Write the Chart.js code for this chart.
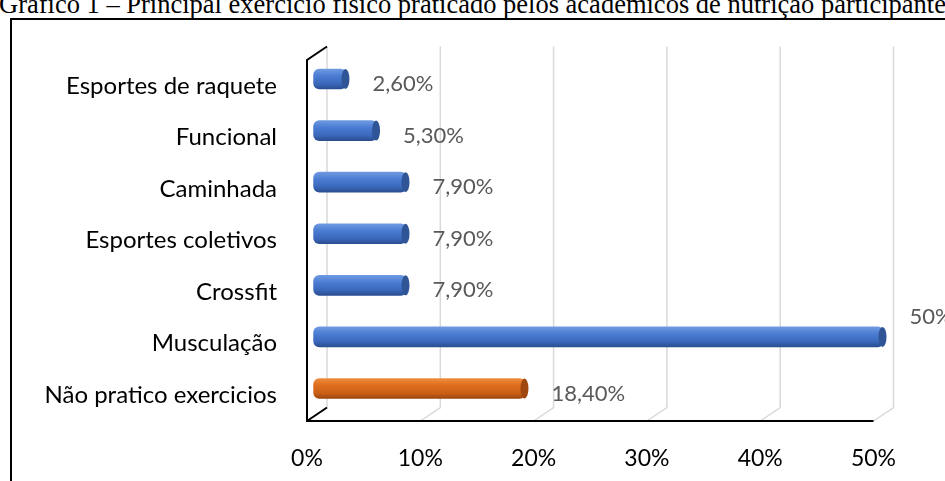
<!DOCTYPE html>
<html>
<head>
<meta charset="utf-8">
<script src="https://cdn.jsdelivr.net/npm/chart.js@4.4.1/dist/chart.umd.min.js"></script>
<style>
  html, body { margin: 0; padding: 0; background: #fff; overflow: hidden; }
  #wrap { position: relative; width: 945px; height: 481px; overflow: hidden; }
  #title { position: absolute; left: -1px; top: -9px; font-family: "Liberation Serif", "Times New Roman", serif; font-size: 26.5px; line-height: 27px; white-space: nowrap; color: #000; }
  #frame { position: absolute; left: 10px; top: 18px; width: 960px; height: 480px; border-left: 2px solid #000; border-top: 2px solid #000; }
  #c { position: absolute; left: 0; top: 0; }
</style>
</head>
<body>
<div id="wrap">
  <div id="title">Gráfico 1 – Principal exercício físico praticado pelos acadêmicos de nutrição participantes</div>
  <div id="frame"></div>
  <canvas id="c" width="945" height="481"></canvas>
</div>
<script>
// data, top to bottom
const categories = ['Esportes de raquete', 'Funcional', 'Caminhada', 'Esportes coletivos', 'Crossfit', 'Musculação', 'Não pratico exercicios'];
const values = [2.6, 5.3, 7.9, 7.9, 7.9, 50, 18.4];
const barKinds = ['blue', 'blue', 'blue', 'blue', 'blue', 'blue', 'orange'];
const xTicks = [0, 10, 20, 30, 40, 50];

// fake 3D depth: half offset between front and back wall
const DX = 10, DY = 6.75;

const palette = {
    blue: { stops: ['#6f9ae2', '#4a7cd2', '#3a67ba', '#2a4e90'], cap: '#2f5597' },
    orange: { stops: ['#f08d3e', '#dd6d1d', '#c95f15', '#9a4610'], cap: '#9f4910' }
};

function fmt(v) {
    return Number.isInteger(v) ? v + '%' : v.toFixed(2).replace('.', ',') + '%';
}

function barFill(context) {
    const chart = context.chart;
    const kind = palette[barKinds[context.dataIndex]];
    if (!chart.chartArea) return kind.stops[1];
    const y = chart.scales.y.getPixelForValue(context.dataIndex);
    const g = chart.ctx.createLinearGradient(0, y - 10, 0, y + 10);
    g.addColorStop(0, kind.stops[0]);
    g.addColorStop(0.35, kind.stops[1]);
    g.addColorStop(0.75, kind.stops[2]);
    g.addColorStop(1, kind.stops[3]);
    return g;
}

const walls = {
    id: 'walls',
    beforeDatasetsDraw(chart) {
        const { ctx, chartArea: a, scales: { x } } = chart;
        ctx.save();
        ctx.lineWidth = 1.5;
        ctx.strokeStyle = '#d9d9d9';
        xTicks.forEach(t => {
            const px = x.getPixelForValue(t);
            ctx.beginPath();
            ctx.moveTo(px + DX, a.top - DY);
            ctx.lineTo(px + DX, a.bottom - DY);
            ctx.lineTo(px - DX, a.bottom + DY);
            ctx.stroke();
        });
        const x0 = x.getPixelForValue(0);
        const x1 = x.getPixelForValue(xTicks[xTicks.length - 1]);
        ctx.strokeStyle = '#000';
        ctx.lineWidth = 2;
        ctx.beginPath();
        ctx.moveTo(x0 + DX, a.top - DY);
        ctx.lineTo(x0 - DX, a.top + DY);
        ctx.lineTo(x0 - DX, a.bottom + DY);
        ctx.lineTo(x1 - DX, a.bottom + DY);
        ctx.moveTo(x0 - DX, a.bottom + DY);
        ctx.lineTo(x0 + DX, a.bottom - DY);
        ctx.stroke();
        ctx.restore();
    },
    afterDatasetsDraw(chart) {
        const ctx = chart.ctx;
        const meta = chart.getDatasetMeta(0);
        ctx.save();
        meta.data.forEach((el, i) => {
            const h = el.height;
            // end face of the cylinder
            ctx.fillStyle = palette[barKinds[i]].cap;
            ctx.beginPath();
            ctx.ellipse(el.x - 1, el.y, 4, h / 2, 0, 0, Math.PI * 2);
            ctx.fill();
        });
        // value labels
        ctx.font = '22px Lato';
        ctx.fillStyle = '#595959';
        ctx.textAlign = 'left';
        ctx.textBaseline = 'middle';
        meta.data.forEach((el, i) => {
            const txt = fmt(values[i]);
            const w = ctx.measureText(txt).width;
            if (el.x + 26 + w > chart.width) {
                ctx.fillText(txt, el.x + 26, el.y - 20);
            } else {
                ctx.fillText(txt, el.x + 26, el.y + 5);
            }
        });
        ctx.restore();
    }
};

new Chart(document.getElementById('c'), {
    type: 'bar',
    data: {
        labels: categories,
        datasets: [{
            data: values,
            base: -0.3,
            clip: false,
            backgroundColor: barFill,
            borderWidth: 0,
            borderRadius: 6,
            borderSkipped: false,
            barThickness: 20
        }]
    },
    options: {
        indexAxis: 'y',
        responsive: false,
        animation: false,
        layout: { padding: { top: 53.25, right: 61.5, left: 0, bottom: 0 } },
        plugins: {
            legend: { display: false },
            tooltip: { enabled: false }
        },
        scales: {
            x: {
                min: 0,
                max: 50,
                grid: { display: false },
                border: { display: false },
                afterFit(scale) { scale.height = 66.75; },
                afterBuildTicks(scale) { scale.ticks = xTicks.map(v => ({ value: v })); },
                ticks: {
                    padding: 23,
                    labelOffset: -DX,
                    color: '#000',
                    font: { family: 'Lato', size: 23 },
                    callback: v => v + '%'
                }
            },
            y: {
                grid: { display: false },
                border: { display: false },
                afterFit(scale) { scale.width = 317; },
                ticks: {
                    padding: 32,
                    labelOffset: DY,
                    color: '#000',
                    font: { family: 'Lato', size: 24 }
                }
            }
        }
    },
    plugins: [walls]
});
</script>
</body>
</html>
